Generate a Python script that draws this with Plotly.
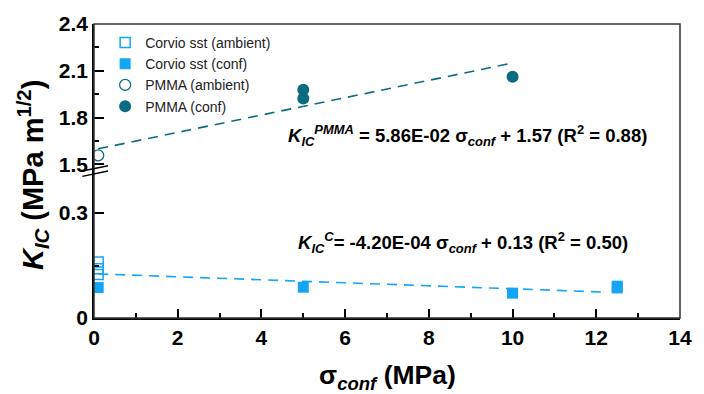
import plotly.graph_objects as go

# ---- data ----
corvio_amb_x = [0.1, 0.1, 0.1]
corvio_amb_y = [0.160, 0.141, 0.124]
corvio_conf_x = [0.1, 5, 10, 12.5, 12.5]
corvio_conf_y = [0.087, 0.088, 0.071, 0.091, 0.086]
pmma_amb_x = [0.1]
pmma_amb_y = [1.558]
pmma_conf_x = [5, 5, 10]
pmma_conf_y = [1.978, 1.923, 2.062]
corvio_fit_x = [0.1, 12.2]
corvio_fit_y = [0.126, 0.074]
pmma_fit_x = [0.1, 10]
pmma_fit_y = [1.60, 2.15]

x_ticks = [0, 2, 4, 6, 8, 10, 12, 14]
y_low_ticks = [0, 0.3]
y_low_text = ["0", "0.3"]
y_up_ticks = [1.5, 1.8, 2.1, 2.4]
y_up_text = ["1.5", "1.8", "2.1", "2.4"]

C_BLUE = "#14a5f5"
C_TEAL = "#0c6b80"
FONT = "Liberation Sans, Arial, sans-serif"

fig = go.Figure()

# fits
fig.add_trace(go.Scatter(x=corvio_fit_x, y=corvio_fit_y, mode="lines",
                         line=dict(color=C_BLUE, width=1.6, dash="10px,7px"),
                         showlegend=False, xaxis="x", yaxis="y"))
fig.add_trace(go.Scatter(x=pmma_fit_x, y=pmma_fit_y, mode="lines",
                         line=dict(color=C_TEAL, width=1.6, dash="10px,7px"),
                         showlegend=False, xaxis="x2", yaxis="y2"))

# points
fig.add_trace(go.Scatter(x=corvio_amb_x, y=corvio_amb_y, mode="markers",
                         name="Corvio sst (ambient)",
                         marker=dict(symbol="square-open", size=10, color=C_BLUE,
                                     line=dict(width=1.5, color=C_BLUE)),
                         xaxis="x", yaxis="y"))
fig.add_trace(go.Scatter(x=corvio_conf_x, y=corvio_conf_y, mode="markers",
                         name="Corvio sst (conf)",
                         marker=dict(symbol="square", size=11, color=C_BLUE),
                         xaxis="x", yaxis="y"))
fig.add_trace(go.Scatter(x=pmma_amb_x, y=pmma_amb_y, mode="markers",
                         name="PMMA (ambient)",
                         marker=dict(symbol="circle-open", size=11, color=C_TEAL,
                                     line=dict(width=1.3, color=C_TEAL)),
                         xaxis="x2", yaxis="y2"))
fig.add_trace(go.Scatter(x=pmma_conf_x, y=pmma_conf_y, mode="markers",
                         name="PMMA (conf)",
                         marker=dict(symbol="circle", size=12, color=C_TEAL),
                         xaxis="x2", yaxis="y2"))

split = 0.5117
tickfont = dict(family=FONT, size=21, color="black", weight="bold")

fig.update_layout(
    width=704, height=394,
    margin=dict(l=94, r=12, t=19, b=76),
    paper_bgcolor="white", plot_bgcolor="white",
    font=dict(family=FONT, color="black"),
    xaxis=dict(domain=[0, 1], range=[0, 14], anchor="y",
               tickmode="array", tickvals=x_ticks, ticks="inside", ticklen=9,
               tickwidth=1.5, tickcolor="black",
               minor=dict(dtick=1, tick0=0, ticks="inside", ticklen=5, tickwidth=1.5, tickcolor="black"),
               showline=True, linecolor="black", linewidth=1.5,
               showgrid=False, zeroline=False, tickfont=tickfont),
    xaxis2=dict(domain=[0, 1], range=[0, 14], anchor="y2", matches="x",
                visible=False, showgrid=False),
    yaxis=dict(domain=[0, split], range=[0, 0.430], anchor="x",
               tickmode="array", tickvals=y_low_ticks, ticktext=y_low_text,
               ticks="inside", ticklen=10, tickwidth=1.5, tickcolor="black",
               minor=dict(tickvals=[0.15], ticks="inside", ticklen=5, tickwidth=1.5, tickcolor="black"),
               showline=True, linecolor="black", linewidth=1.5,
               showgrid=False, zeroline=False, tickfont=tickfont),
    yaxis2=dict(domain=[split, 1], range=[1.48, 2.4], anchor="x2",
                tickmode="array", tickvals=y_up_ticks, ticktext=y_up_text,
                ticks="inside", ticklen=10, tickwidth=1.5, tickcolor="black",
                minor=dict(tickvals=[1.65, 1.95, 2.25], ticks="inside", ticklen=5, tickwidth=1.5, tickcolor="black"),
                showline=True, linecolor="black", linewidth=1.5,
                showgrid=False, zeroline=False, tickfont=tickfont),
    legend=dict(x=0.019, y=0.99, xanchor="left", yanchor="top",
                bgcolor="rgba(0,0,0,0)", font=dict(family=FONT, size=14, color="#222"),
                itemwidth=30, tracegroupgap=0),
    showlegend=True,
)

# frame
fig.add_shape(type="rect", xref="paper", yref="paper", x0=0, x1=1, y0=0, y1=1,
              line=dict(color="#333", width=1.5), layer="above")
# axis break marks
for dy in (0.0, 0.018):
    fig.add_shape(type="line", xref="paper", yref="paper",
                  x0=-0.02, x1=0.024, y0=split - 0.012 - dy, y1=split + 0.006 - dy,
                  line=dict(color="black", width=1.5))

# equations
fig.add_annotation(x=8.93, y=1.685, xref="x2", yref="y2", showarrow=False,
                   text="<b><i>K</i><sub><i>IC</i></sub><sup><i>PMMA</i></sup> = 5.86E-02 σ<sub><i>conf</i></sub> + 1.57 (R<sup>2</sup> = 0.88)</b>",
                   font=dict(family=FONT, size=18.5, color="black"))
fig.add_annotation(x=8.81, y=0.215, xref="x", yref="y", showarrow=False,
                   text="<b><i>K</i><sub><i>IC</i></sub><sup><i>C</i></sup>= -4.20E-04 σ<sub><i>conf</i></sub> + 0.13 (R<sup>2</sup> = 0.50)</b>",
                   font=dict(family=FONT, size=18.5, color="black"))

# axis titles
fig.add_annotation(x=-0.105, y=0.488, xref="paper", yref="paper", showarrow=False,
                   textangle=-90, xanchor="center", yanchor="middle",
                   text="<b><i>K</i><sub><i>IC</i></sub> (MPa m<sup>1/2</sup>)</b>",
                   font=dict(family=FONT, size=29, color="black"))
fig.add_annotation(x=0.5, y=-0.2, xref="paper", yref="paper", showarrow=False,
                   xanchor="center", yanchor="middle",
                   text="<b>σ<sub><i>conf</i></sub> (MPa)</b>",
                   font=dict(family=FONT, size=26.5, color="black"))

fig.write_html("out.html", config={"displayModeBar": False},
               post_script="document.body.style.margin='0';")
